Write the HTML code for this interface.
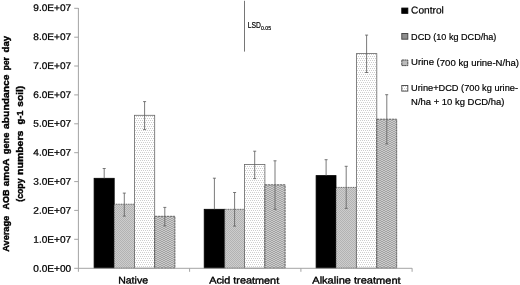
<!DOCTYPE html>
<html><head><meta charset="utf-8"><title>AOB amoA gene abundance</title>
<style>
html,body{margin:0;padding:0;background:#fff;}
body{width:520px;height:285px;overflow:hidden;font-family:"Liberation Sans",sans-serif;}
svg{display:block;will-change:transform;}
text{font-family:"Liberation Sans",sans-serif;fill:#000;stroke:#000;stroke-width:0.2px;}
.b text{font-weight:bold;stroke-width:0.4px;}
</style></head><body>
<svg width="520" height="285" viewBox="0 0 520 285">
<defs>
<pattern id="p1" width="2" height="2" patternUnits="userSpaceOnUse">
<rect width="2" height="2" fill="#cdcdcd"/><rect x="0" y="0" width="1" height="1" fill="#b3b3b3"/><rect x="1" y="1" width="1" height="1" fill="#b3b3b3"/>
</pattern>
<pattern id="p2" width="4" height="4" patternUnits="userSpaceOnUse">
<rect width="4" height="4" fill="#fff"/><rect x="0" y="0" width="1" height="1" fill="#cecece"/><rect x="2" y="0" width="1" height="1" fill="#cecece"/><rect x="1" y="2" width="1" height="1" fill="#cecece"/><rect x="3" y="2" width="1" height="1" fill="#cecece"/>
</pattern>
<pattern id="p3" width="4" height="2" patternUnits="userSpaceOnUse">
<rect width="4" height="2" fill="#cbcbcb"/><rect x="-0.55" y="0.1" width="1.1" height="0.9" fill="#7a7a7a"/><rect x="3.45" y="0.1" width="1.1" height="0.9" fill="#7a7a7a"/><rect x="1.45" y="1.1" width="1.1" height="0.9" fill="#7a7a7a"/>
</pattern>
</defs>
<rect width="520" height="285" fill="#fff"/>

<rect x="94.1" y="178.3" width="20.1" height="89.9" fill="#000" stroke="#000" stroke-width="0.8"/>
<rect x="114.2" y="204.2" width="20.3" height="64.0" fill="url(#p1)" stroke="#404040" stroke-width="0.8" stroke-dasharray="1 0.7"/>
<rect x="134.5" y="115.3" width="20.2" height="152.9" fill="url(#p2)" stroke="#666" stroke-width="0.8"/>
<rect x="154.7" y="216.3" width="20.2" height="51.9" fill="url(#p3)" stroke="#454545" stroke-width="0.8" stroke-dasharray="2.4 0.6"/>
<rect x="204.2" y="209.3" width="20.5" height="58.9" fill="#000" stroke="#000" stroke-width="0.8"/>
<rect x="224.7" y="209.3" width="19.8" height="58.9" fill="url(#p1)" stroke="#404040" stroke-width="0.8" stroke-dasharray="1 0.7"/>
<rect x="244.5" y="164.5" width="20.4" height="103.7" fill="url(#p2)" stroke="#666" stroke-width="0.8"/>
<rect x="264.9" y="184.8" width="20.2" height="83.4" fill="url(#p3)" stroke="#454545" stroke-width="0.8" stroke-dasharray="2.4 0.6"/>
<rect x="316.1" y="175.6" width="19.9" height="92.6" fill="#000" stroke="#000" stroke-width="0.8"/>
<rect x="336.0" y="187.4" width="20.4" height="80.8" fill="url(#p1)" stroke="#404040" stroke-width="0.8" stroke-dasharray="1 0.7"/>
<rect x="356.4" y="53.6" width="20.4" height="214.6" fill="url(#p2)" stroke="#666" stroke-width="0.8"/>
<rect x="376.8" y="119.2" width="19.9" height="149.0" fill="url(#p3)" stroke="#454545" stroke-width="0.8" stroke-dasharray="2.4 0.6"/>
<g stroke="#a4a4a4" stroke-width="1" fill="none">
<line x1="78.4" y1="8.0" x2="78.4" y2="268.7"/>
<line x1="74.2" y1="268.3" x2="412.1" y2="268.3"/>
<line x1="74.2" y1="239.3" x2="78.4" y2="239.3"/>
<line x1="74.2" y1="210.4" x2="78.4" y2="210.4"/>
<line x1="74.2" y1="181.6" x2="78.4" y2="181.6"/>
<line x1="74.2" y1="152.7" x2="78.4" y2="152.7"/>
<line x1="74.2" y1="123.8" x2="78.4" y2="123.8"/>
<line x1="74.2" y1="94.9" x2="78.4" y2="94.9"/>
<line x1="74.2" y1="66.0" x2="78.4" y2="66.0"/>
<line x1="74.2" y1="37.2" x2="78.4" y2="37.2"/>
<line x1="74.2" y1="8.3" x2="78.4" y2="8.3"/>
<line x1="78.4" y1="268.2" x2="78.4" y2="271.8"/>
<line x1="189.6" y1="268.2" x2="189.6" y2="271.8"/>
<line x1="300.9" y1="268.2" x2="300.9" y2="271.8"/>
<line x1="412.1" y1="268.2" x2="412.1" y2="271.8"/>
</g>
<g stroke="#626262" stroke-width="0.85" fill="none">
<path d="M104.2 168.5V178.3M102.7 168.5H105.7"/>
<path d="M124.3 193.1V216.1M122.8 193.1H125.8M122.8 216.1H125.8"/>
<path d="M144.6 101.6V129.6M143.1 101.6H146.1M143.1 129.6H146.1"/>
<path d="M164.8 207.4V225.9M163.3 207.4H166.3M163.3 225.9H166.3"/>
<path d="M214.4 178.2V209.3M212.9 178.2H215.9"/>
<path d="M234.6 192.5V226.1M233.1 192.5H236.1M233.1 226.1H236.1"/>
<path d="M254.7 151.2V178.6M253.2 151.2H256.2M253.2 178.6H256.2"/>
<path d="M275.0 160.8V209.3M273.5 160.8H276.5M273.5 209.3H276.5"/>
<path d="M326.1 159.7V175.6M324.6 159.7H327.6"/>
<path d="M346.2 166.3V208.4M344.7 166.3H347.7M344.7 208.4H347.7"/>
<path d="M366.6 35.1V72.5M365.1 35.1H368.1M365.1 72.5H368.1"/>
<path d="M386.8 94.7V143.9M385.2 94.7H388.2M385.2 143.9H388.2"/>
</g>
<line x1="244.5" y1="0.8" x2="244.5" y2="51.6" stroke="#767676" stroke-width="1"/>
<text transform="matrix(1 0.0005 0 1 0 0)" x="247.70" y="27.78" font-size="8.8" textLength="13.2" lengthAdjust="spacingAndGlyphs">LSD</text>
<text transform="matrix(1 0.0005 0 1 0 0)" x="261.00" y="29.77" font-size="5.6" textLength="10.0" lengthAdjust="spacingAndGlyphs">0.05</text>
<text transform="matrix(1 0.0005 0 1 0 0)" x="33.30" y="271.62" font-size="9.6" style="stroke-width:0.24px" textLength="37.8" lengthAdjust="spacingAndGlyphs">0.0E+00</text>
<text transform="matrix(1 0.0005 0 1 0 0)" x="33.30" y="242.66" font-size="9.6" style="stroke-width:0.24px" textLength="37.8" lengthAdjust="spacingAndGlyphs">1.0E+07</text>
<text transform="matrix(1 0.0005 0 1 0 0)" x="33.30" y="213.70" font-size="9.6" style="stroke-width:0.24px" textLength="37.8" lengthAdjust="spacingAndGlyphs">2.0E+07</text>
<text transform="matrix(1 0.0005 0 1 0 0)" x="33.30" y="184.74" font-size="9.6" style="stroke-width:0.24px" textLength="37.8" lengthAdjust="spacingAndGlyphs">3.0E+07</text>
<text transform="matrix(1 0.0005 0 1 0 0)" x="33.30" y="155.78" font-size="9.6" style="stroke-width:0.24px" textLength="37.8" lengthAdjust="spacingAndGlyphs">4.0E+07</text>
<text transform="matrix(1 0.0005 0 1 0 0)" x="33.30" y="126.82" font-size="9.6" style="stroke-width:0.24px" textLength="37.8" lengthAdjust="spacingAndGlyphs">5.0E+07</text>
<text transform="matrix(1 0.0005 0 1 0 0)" x="33.30" y="97.86" font-size="9.6" style="stroke-width:0.24px" textLength="37.8" lengthAdjust="spacingAndGlyphs">6.0E+07</text>
<text transform="matrix(1 0.0005 0 1 0 0)" x="33.30" y="68.90" font-size="9.6" style="stroke-width:0.24px" textLength="37.8" lengthAdjust="spacingAndGlyphs">7.0E+07</text>
<text transform="matrix(1 0.0005 0 1 0 0)" x="33.30" y="39.94" font-size="9.6" style="stroke-width:0.24px" textLength="37.8" lengthAdjust="spacingAndGlyphs">8.0E+07</text>
<text transform="matrix(1 0.0005 0 1 0 0)" x="33.30" y="10.98" font-size="9.6" style="stroke-width:0.24px" textLength="37.8" lengthAdjust="spacingAndGlyphs">9.0E+07</text>
<text transform="matrix(1 0.0005 0 1 0 0)" x="118.20" y="283.54" font-size="9.7" style="stroke-width:0.35px" textLength="29.8" lengthAdjust="spacingAndGlyphs">Native</text>
<text transform="matrix(1 0.0005 0 1 0 0)" x="209.20" y="283.50" font-size="9.7" style="stroke-width:0.35px" textLength="70.0" lengthAdjust="spacingAndGlyphs">Acid treatment</text>
<text transform="matrix(1 0.0005 0 1 0 0)" x="312.30" y="283.44" font-size="9.7" style="stroke-width:0.35px" textLength="88.3" lengthAdjust="spacingAndGlyphs">Alkaline treatment</text>
<g class="b" font-size="9.6">
<text transform="translate(8.8 251.8) rotate(-90)" textLength="36.0" lengthAdjust="spacingAndGlyphs">Average</text>
<text transform="translate(8.8 209.4) rotate(-90)" textLength="20.0" lengthAdjust="spacingAndGlyphs">AOB</text>
<text transform="translate(8.8 186.2) rotate(-90)" textLength="27.7" lengthAdjust="spacingAndGlyphs">amoA</text>
<text transform="translate(8.8 154.3) rotate(-90)" textLength="21.8" lengthAdjust="spacingAndGlyphs">gene</text>
<text transform="translate(8.8 129.0) rotate(-90)" textLength="54.6" lengthAdjust="spacingAndGlyphs">abundance</text>
<text transform="translate(8.8 70.2) rotate(-90)" textLength="13.1" lengthAdjust="spacingAndGlyphs">per</text>
<text transform="translate(8.8 52.4) rotate(-90)" textLength="16.4" lengthAdjust="spacingAndGlyphs">day</text>
<text transform="translate(23.0 201.7) rotate(-90)" textLength="23.2" lengthAdjust="spacingAndGlyphs">(copy</text>
<text transform="translate(23.0 174.9) rotate(-90)" textLength="44.2" lengthAdjust="spacingAndGlyphs">numbers</text>
<text transform="translate(23.0 124.5) rotate(-90)" textLength="13.9" lengthAdjust="spacingAndGlyphs">g-1</text>
<text transform="translate(23.0 106.8) rotate(-90)" textLength="21.1" lengthAdjust="spacingAndGlyphs">soil)</text>
</g>
<rect x="401.8" y="8.1" width="6.0" height="5.2" fill="#000" stroke="#000" stroke-width="0.95"/>
<text transform="matrix(1 0.0005 0 1 0 0)" x="411.10" y="13.29" font-size="9.9" textLength="32.7" lengthAdjust="spacingAndGlyphs">Control</text>
<rect x="401.8" y="33.5" width="6.0" height="5.7" fill="#8e8e8e" stroke="#444" stroke-width="0.95"/>
<text transform="matrix(1 0.0005 0 1 0 0)" x="411.10" y="39.49" font-size="9.9" textLength="85.3" lengthAdjust="spacingAndGlyphs">DCD (10 kg DCD/ha)</text>
<rect x="401.8" y="60.0" width="6.0" height="5.6" fill="#bcbcbc" stroke="#454545" stroke-width="0.95" stroke-dasharray="2.2 0.4"/>
<text transform="matrix(1 0.0005 0 1 0 0)" x="411.10" y="65.29" font-size="9.9" textLength="107.9" lengthAdjust="spacingAndGlyphs">Urine (700 kg urine-N/ha)</text>
<rect x="401.8" y="85.5" width="6.0" height="5.6" fill="url(#p2)" stroke="#4a4a4a" stroke-width="0.95"/>
<text transform="matrix(1 0.0005 0 1 0 0)" x="411.10" y="90.69" font-size="9.9" textLength="106.9" lengthAdjust="spacingAndGlyphs">Urine+DCD (700 kg urine-</text>
<text transform="matrix(1 0.0005 0 1 0 0)" x="411.10" y="105.09" font-size="9.9" textLength="93.3" lengthAdjust="spacingAndGlyphs">N/ha + 10 kg DCD/ha)</text>
</svg>
</body></html>
